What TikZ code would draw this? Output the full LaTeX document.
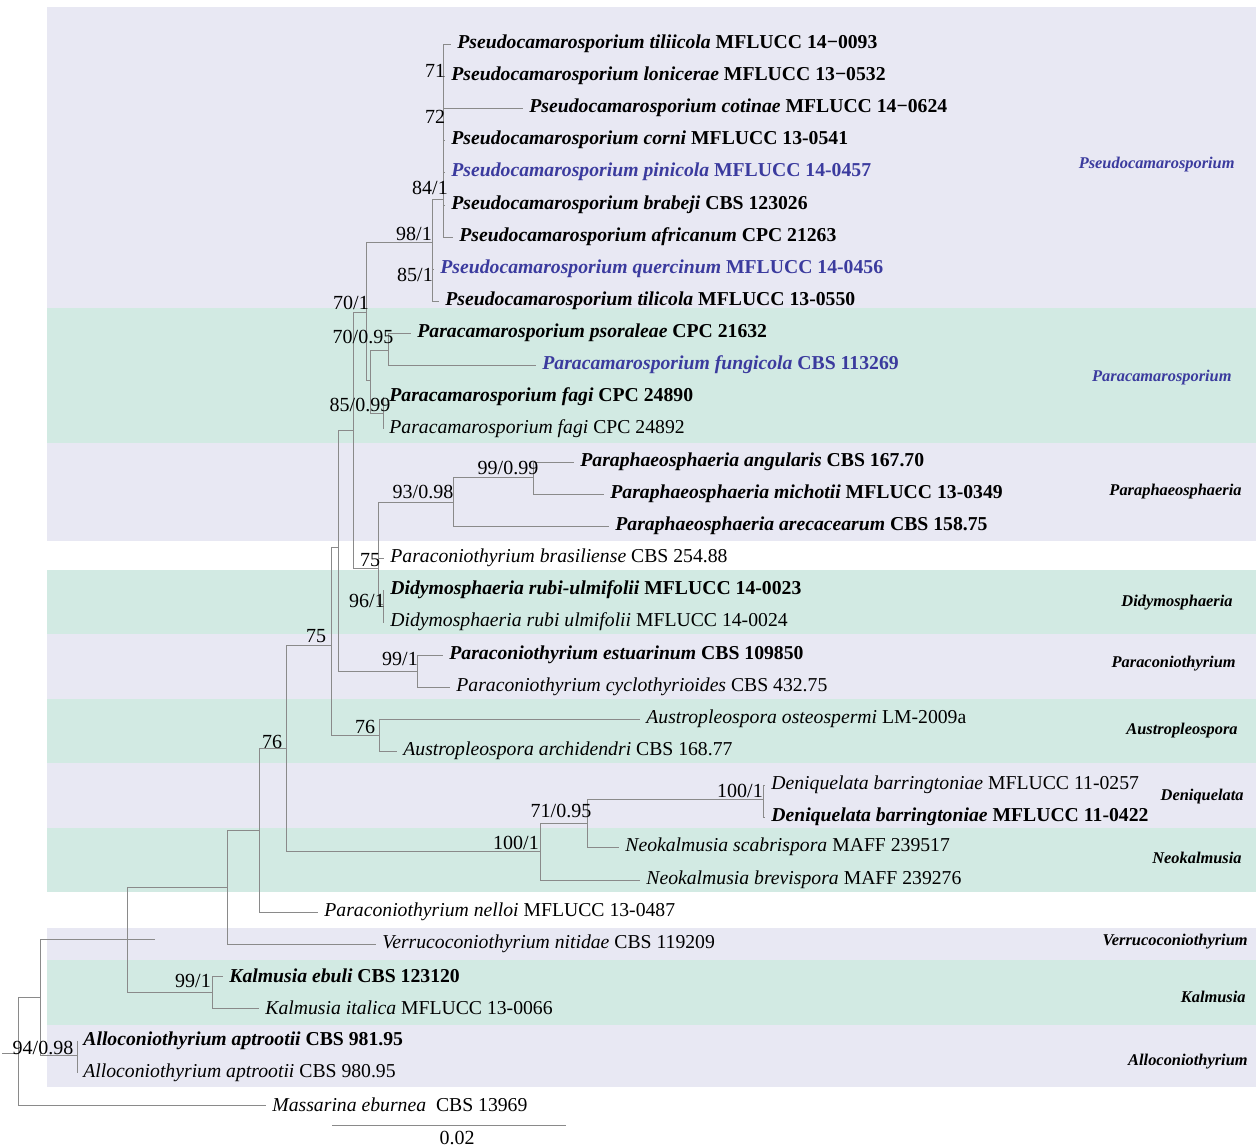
\documentclass[tikz,border=0pt]{standalone}
\usepackage{fontspec}
\setmainfont{Liberation Serif}
\usepackage{xcolor}
\usepackage{tikz}
\usetikzlibrary{positioning}
\definecolor{bandlav}{HTML}{E8E8F3}
\definecolor{bandmint}{HTML}{D2EAE3}
\definecolor{taxblue}{HTML}{3B3B9E}
\definecolor{treegray}{HTML}{8A8A8A}
\newcommand{\taxon}[2]{\textit{#1} #2}
\newcommand{\taxonb}[2]{\textbf{\textit{#1} #2}}

\begin{document}
\begin{tikzpicture}[x=0.5pt, y=-0.5pt,
  branch/.style={draw=treegray, line width=0.5pt},
  leaf/.style={anchor=west, inner xsep=3pt, inner ysep=0pt, yshift=-1pt, font=\fontsize{9.85}{12}\selectfont},
  leafblue/.style={leaf, text=taxblue},
  supp/.style={inner sep=0pt, font=\fontsize{10}{12}\selectfont},
  genus/.style={anchor=east, inner sep=0pt, font=\fontsize{8.2}{10}\selectfont\bfseries\itshape},
]
  \useasboundingbox (0,0) rectangle (1256,1146);

  % coloured bands
  \fill[bandlav]  (47,7)    rectangle (1256,308);
  \fill[bandmint] (47,308)  rectangle (1256,443);
  \fill[bandlav]  (47,443)  rectangle (1256,541);
  \fill[bandmint] (47,570)  rectangle (1256,634);
  \fill[bandlav]  (47,634)  rectangle (1256,699);
  \fill[bandmint] (47,699)  rectangle (1256,763);
  \fill[bandlav]  (47,763)  rectangle (1256,828);
  \fill[bandmint] (47,828)  rectangle (1256,892);
  \fill[bandlav]  (47,928)  rectangle (1256,960);
  \fill[bandmint] (47,960)  rectangle (1256,1025);
  \fill[bandlav]  (47,1025) rectangle (1256,1087);

  % genus names
  \node[genus, text=taxblue] (gPseudo) at (1235,165) {Pseudocamarosporium};
  \node[genus, text=taxblue] (gParacam) at (1232,378) {Paracamarosporium};
  \node[genus] (gParaph) at (1242,492) {Paraphaeosphaeria};
  \node[genus] (gDidy) at (1233,603) {Didymosphaeria};
  \node[genus] (gParacon) at (1236,664) {Paraconiothyrium};
  \node[genus] (gAustro) at (1238,731) {Austropleospora};
  \node[genus] (gDeniq) at (1244,797) {Deniquelata};
  \node[genus] (gNeok) at (1242,858) {Neokalmusia};
  \node[genus] (gVerru) at (1248,942) {Verrucoconiothyrium};
  \node[genus] (gKalm) at (1246,997) {Kalmusia};
  \node[genus] (gAllo) at (1248,1062) {Alloconiothyrium};

  % leaves
  \node[leaf] (p1) at (451,42) {\taxonb{Pseudocamarosporium tiliicola}{MFLUCC 14−0093}};
  \node[leaf] (p2) at (445,74) {\taxonb{Pseudocamarosporium lonicerae}{MFLUCC 13−0532}};
  \node[leaf] (p3) at (523,106) {\taxonb{Pseudocamarosporium cotinae}{MFLUCC 14−0624}};
  \node[leaf] (p4) at (445,138) {\taxonb{Pseudocamarosporium corni}{MFLUCC 13-0541}};
  \node[leafblue] (p5) at (445,170) {\taxonb{Pseudocamarosporium pinicola}{MFLUCC 14-0457}};
  \node[leaf] (p6) at (445,203) {\taxonb{Pseudocamarosporium brabeji}{CBS 123026}};
  \node[leaf] (p7) at (453,235) {\taxonb{Pseudocamarosporium africanum}{CPC 21263}};
  \node[leafblue] (p8) at (434,267) {\taxonb{Pseudocamarosporium quercinum}{MFLUCC 14-0456}};
  \node[leaf] (p9) at (439,299) {\taxonb{Pseudocamarosporium tilicola}{MFLUCC 13-0550}};
  \node[leaf] (c1) at (411,331) {\taxonb{Paracamarosporium psoraleae}{CPC 21632}};
  \node[leafblue] (c2) at (536,363) {\taxonb{Paracamarosporium fungicola}{CBS 113269}};
  \node[leaf] (c3) at (383,395) {\taxonb{Paracamarosporium fagi}{CPC 24890}};
  \node[leaf] (c4) at (383,427) {\taxon{Paracamarosporium fagi}{CPC 24892}};
  \node[leaf] (f1) at (574,460) {\taxonb{Paraphaeosphaeria angularis}{CBS 167.70}};
  \node[leaf] (f2) at (604,492) {\taxonb{Paraphaeosphaeria michotii}{MFLUCC 13-0349}};
  \node[leaf] (f3) at (609,524) {\taxonb{Paraphaeosphaeria arecacearum}{CBS 158.75}};
  \node[leaf] (b1) at (384,556) {\taxon{Paraconiothyrium brasiliense}{CBS 254.88}};
  \node[leaf] (d1) at (384,588) {\taxonb{Didymosphaeria rubi-ulmifolii}{MFLUCC 14-0023}};
  \node[leaf] (d2) at (384,620) {\taxon{Didymosphaeria rubi ulmifolii}{MFLUCC 14-0024}};
  \node[leaf] (e1) at (443,653) {\taxonb{Paraconiothyrium estuarinum}{CBS 109850}};
  \node[leaf] (e2) at (450,685) {\taxon{Paraconiothyrium cyclothyrioides}{CBS 432.75}};
  \node[leaf] (a1) at (640,717) {\taxon{Austropleospora osteospermi}{LM-2009a}};
  \node[leaf] (a2) at (397,749) {\taxon{Austropleospora archidendri}{CBS 168.77}};
  \node[leaf] (q1) at (765,783) {\taxon{Deniquelata barringtoniae}{MFLUCC 11-0257}};
  \node[leaf] (q2) at (765,815) {\taxonb{Deniquelata barringtoniae}{MFLUCC 11-0422}};
  \node[leaf] (k1) at (619,845) {\taxon{Neokalmusia scabrispora}{MAFF 239517}};
  \node[leaf] (k2) at (640,878) {\taxon{Neokalmusia brevispora}{MAFF 239276}};
  \node[leaf] (ne) at (318,910) {\taxon{Paraconiothyrium nelloi}{MFLUCC 13-0487}};
  \node[leaf] (ve) at (376,942) {\taxon{Verrucoconiothyrium nitidae}{CBS 119209}};
  \node[leaf] (m1) at (223,974) {\taxonb{Kalmusia ebuli}{CBS 123120}};
  \node[leaf] (m2) at (259,1006) {\taxon{Kalmusia italica}{MFLUCC 13-0066}};
  \node[leaf] (al1) at (77,1039) {\taxonb{Alloconiothyrium aptrootii}{CBS 981.95}};
  \node[leaf] (al2) at (77,1071) {\taxon{Alloconiothyrium aptrootii}{CBS 980.95}};
  \node[leaf] (ma) at (266,1103) {\taxon{Massarina eburnea}{\ CBS 13969}};

  % internal nodes
  \coordinate (root) at (18,1053);
  \coordinate (rootstub) at (2,1053);
  \coordinate (n40) at (40,997);
  \coordinate (nAllo) at (77,1055);
  \coordinate (n127) at (127,939);
  \coordinate (n127stub) at (155,939);
  \coordinate (nKalm) at (212,992);
  \coordinate (n227) at (227,887);
  \coordinate (n259) at (259,830);
  \coordinate (n286) at (286,748);
  \coordinate (nNeok) at (540,851);
  \coordinate (n587) at (587,823);
  \coordinate (nDeniq) at (763,799);
  \coordinate (n331) at (331,645);
  \coordinate (nAustro) at (379,735);
  \coordinate (n338) at (338,547);
  \coordinate (nParacon) at (417,671);
  \coordinate (n353) at (353,430);
  \coordinate (n378) at (378,568);
  \coordinate (nDidy) at (383,604);
  \coordinate (nParaph) at (453,502);
  \coordinate (n533) at (533,477);
  \coordinate (n366) at (366,312);
  \coordinate (n370) at (370,380);
  \coordinate (n388) at (388,350);
  \coordinate (nFagi) at (383,413);
  \coordinate (n432) at (432,242);
  \coordinate (n443) at (443,199);

  % branches
  \draw[branch] (rootstub) -- (root) (root) |- (n40) (root) |- (ma.west);
  \draw[branch] (n40) |- (n127) (n40) |- (nAllo);
  \draw[branch] (nAllo) |- (al1.west) (nAllo) |- (al2.west);
  \draw[branch] (n127) -- (n127stub) (n127) |- (nKalm) (n127) |- (n227);
  \draw[branch] (nKalm) |- (m1.west) (nKalm) |- (m2.west);
  \draw[branch] (n227) |- (n259) (n227) |- (ve.west);
  \draw[branch] (n259) |- (n286) (n259) |- (ne.west);
  \draw[branch] (n286) |- (n331) (n286) |- (nNeok);
  \draw[branch] (nNeok) |- (n587) (nNeok) |- (k2.west);
  \draw[branch] (n587) |- (nDeniq) (n587) |- (k1.west);
  \draw[branch] (nDeniq) |- (q1.west) (nDeniq) |- (q2.west);
  \draw[branch] (n331) |- (n338) (n331) |- (nAustro);
  \draw[branch] (nAustro) |- (a1.west) (nAustro) |- (a2.west);
  \draw[branch] (n338) |- (n353) (n338) |- (nParacon);
  \draw[branch] (nParacon) |- (e1.west) (nParacon) |- (e2.west);
  \draw[branch] (n353) |- (n366) (n353) |- (n378);
  \draw[branch] (n378) |- (nParaph) (n378) |- (b1.west) (n378) |- (nDidy);
  \draw[branch] (nDidy) |- (d1.west) (nDidy) |- (d2.west);
  \draw[branch] (nParaph) |- (n533) (nParaph) |- (f3.west);
  \draw[branch] (n533) |- (f1.west) (n533) |- (f2.west);
  \draw[branch] (n366) |- (n432) (n366) |- (n370);
  \draw[branch] (n370) |- (n388) (n370) |- (nFagi);
  \draw[branch] (n388) |- (c1.west) (n388) |- (c2.west);
  \draw[branch] (nFagi) |- (c3.west) (nFagi) |- (c4.west);
  \draw[branch] (n432) |- (n443) (n432) |- (p8.west) (n432) |- (p9.west);
  \draw[branch] (n443) |- (p1.west) (n443) |- (p2.west) (n443) |- (p3.west)
                (n443) |- (p4.west) (n443) |- (p5.west) (n443) |- (p6.west)
                (n443) |- (p7.west);

  % support values
  \node[supp] (s71) at (435,71) {71};
  \node[supp] (s72) at (435,117) {72};
  \node[supp] (s84) at (430,188) {84/1};
  \node[supp] (s98) at (414,234) {98/1};
  \node[supp] (s85) at (415,275) {85/1};
  \node[supp] (s70a) at (351,303) {70/1};
  \node[supp] (s70b) at (363,337) {70/0.95};
  \node[supp] (s85b) at (360,405) {85/0.99};
  \node[supp] (s99a) at (508,468) {99/0.99};
  \node[supp] (s93) at (423,492) {93/0.98};
  \node[supp] (s75a) at (370,560) {75};
  \node[supp] (s96) at (367,601) {96/1};
  \node[supp] (s75b) at (316,636) {75};
  \node[supp] (s99b) at (400,659) {99/1};
  \node[supp] (s76a) at (365,727) {76};
  \node[supp] (s76b) at (272,742) {76};
  \node[supp] (s100a) at (740,791) {100/1};
  \node[supp] (s71b) at (561,811) {71/0.95};
  \node[supp] (s100b) at (516,843) {100/1};
  \node[supp] (s99c) at (193,981) {99/1};
  \node[supp] (s94) at (43,1048) {94/0.98};

  % scale bar
  \coordinate (barL) at (332,1125);
  \coordinate (barR) at (566,1125);
  \draw[branch] (barL) -- (barR);
  \node[supp] (barlabel) at (457,1138) {0.02};
\end{tikzpicture}
\end{document}
